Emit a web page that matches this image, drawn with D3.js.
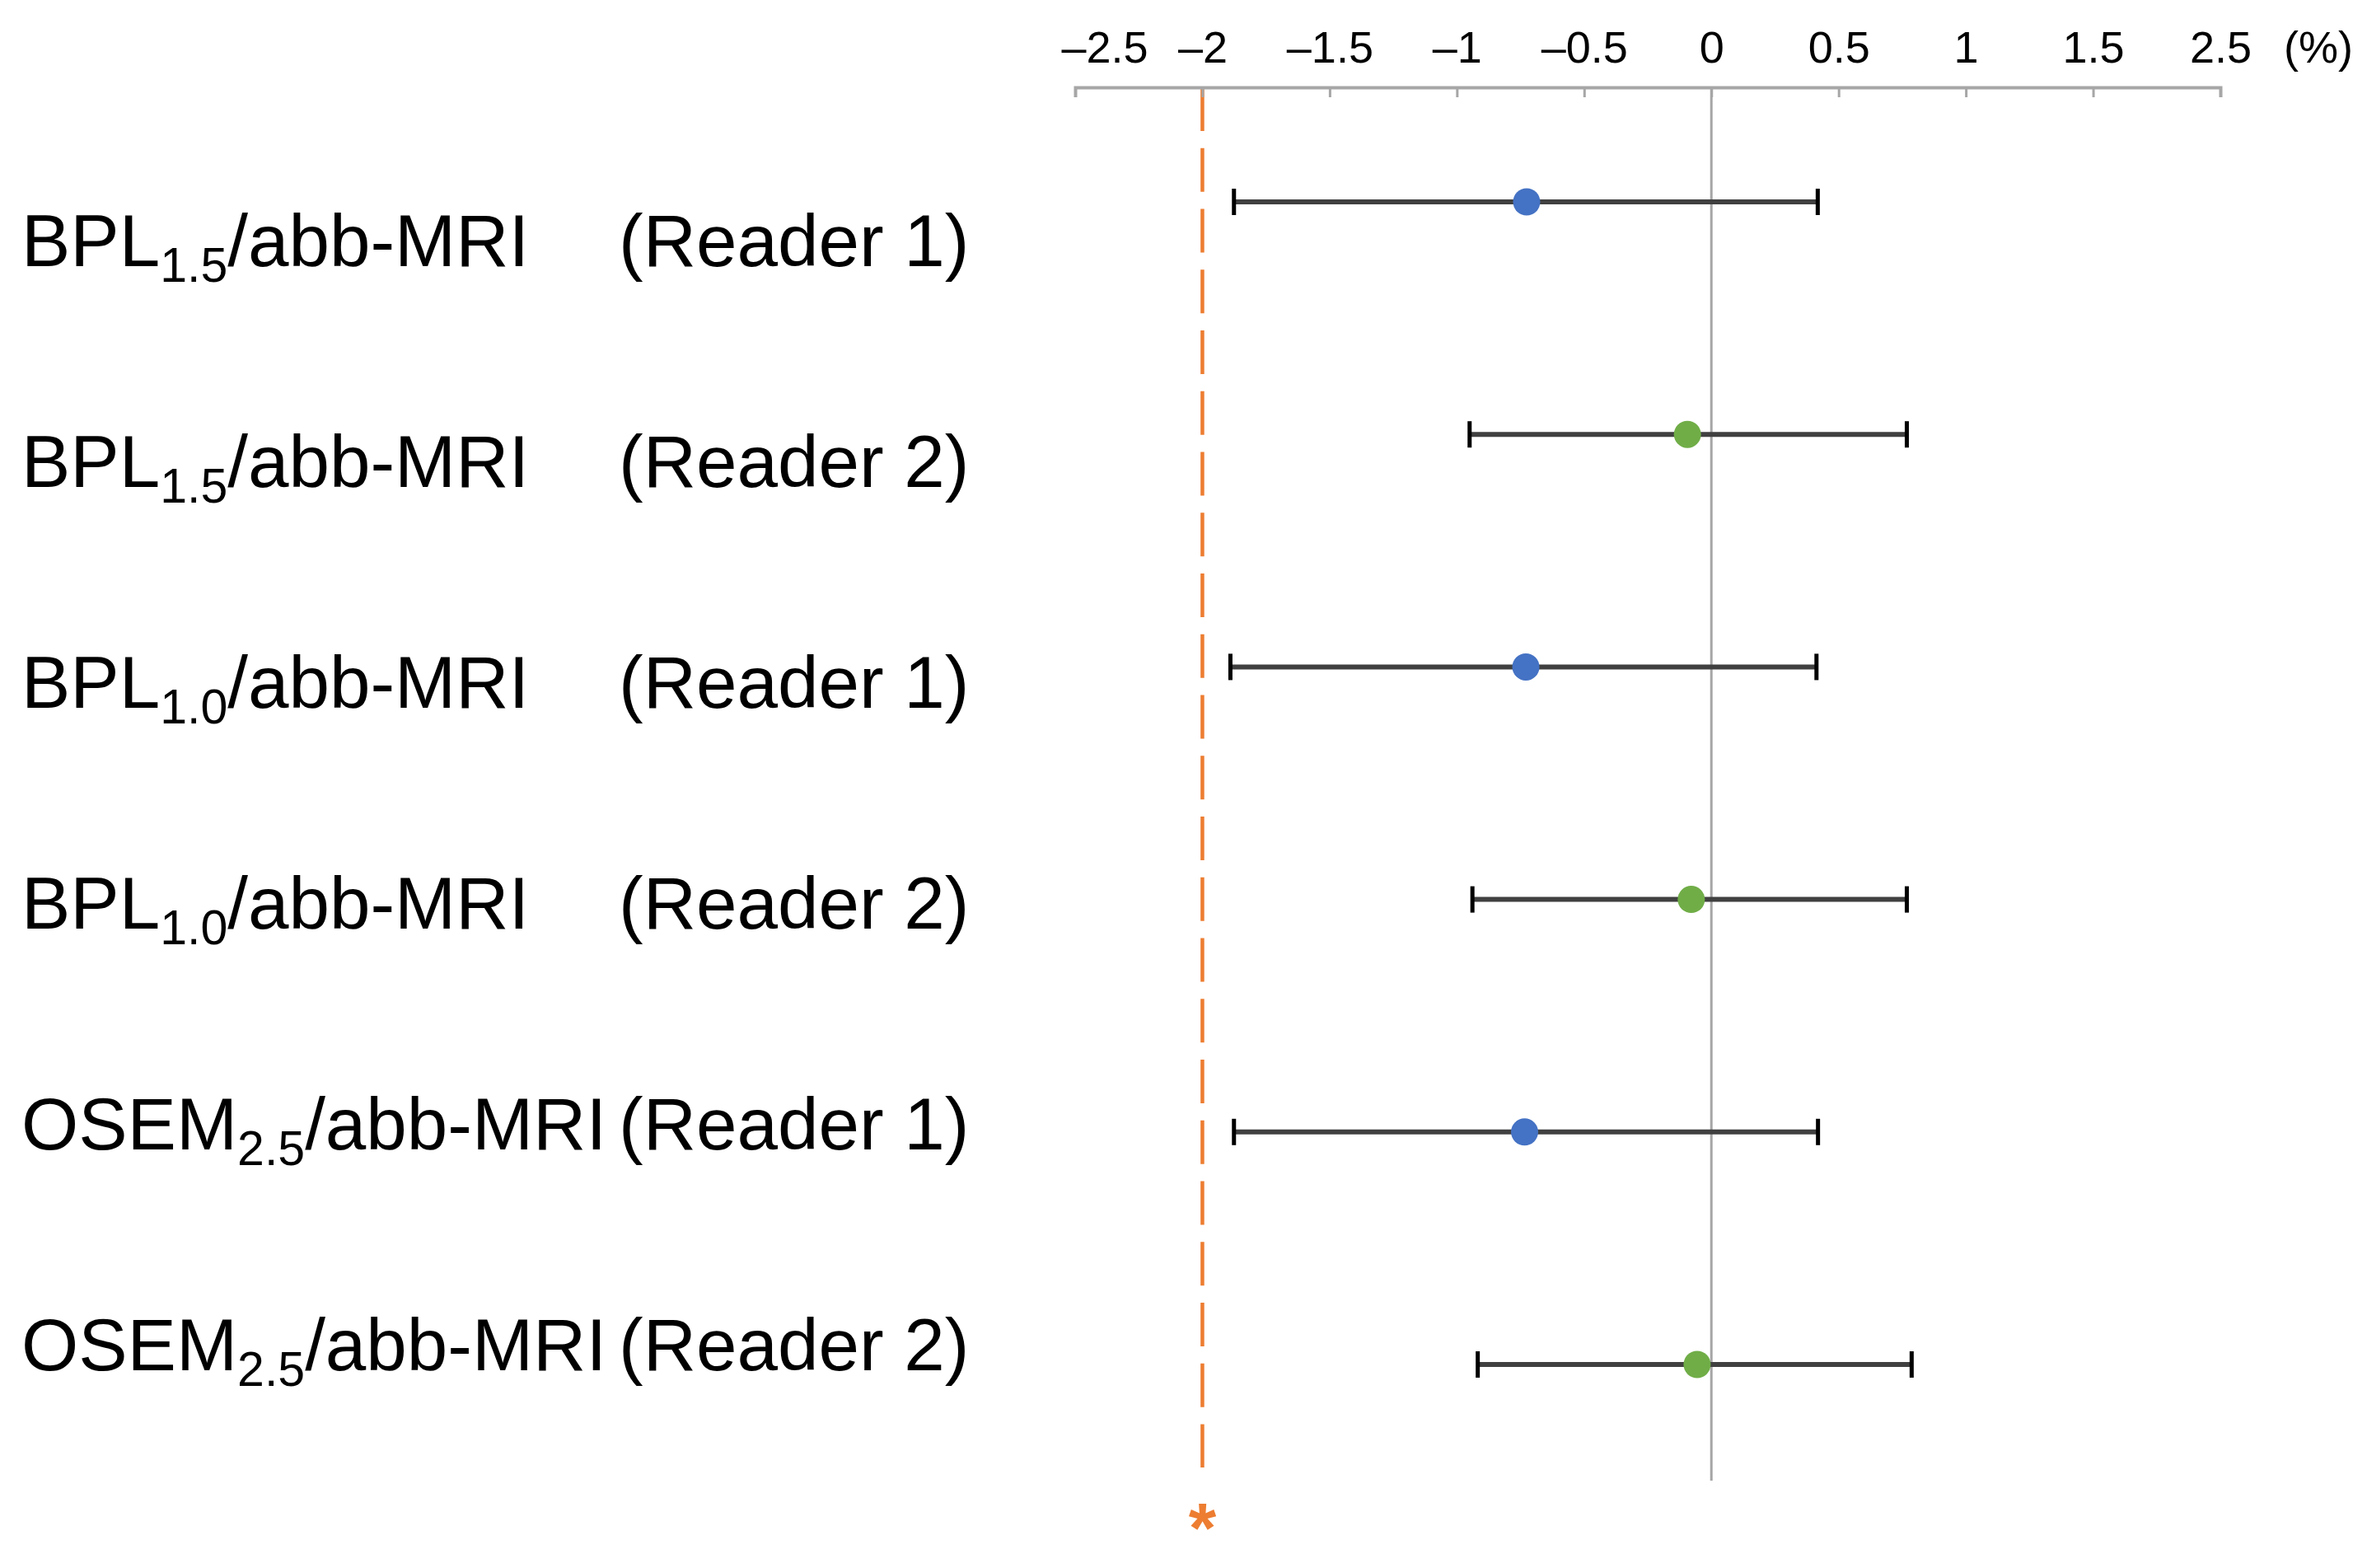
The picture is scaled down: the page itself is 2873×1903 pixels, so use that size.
<!DOCTYPE html>
<html>
<head>
<meta charset="utf-8">
<script src="https://cdn.jsdelivr.net/npm/d3@7"></script>
<style>
  html, body { margin: 0; padding: 0; background: #ffffff; }
  svg { display: block; }
  text { font-family: "Liberation Sans", Arial, sans-serif; }
</style>
</head>
<body>
<script>
// ---- data ----
const methodNames = ["BPL", "BPL", "BPL", "BPL", "OSEM", "OSEM"];
const methodSubs  = ["1.5", "1.5", "1.0", "1.0", "2.5", "2.5"];
const comparison  = "/abb-MRI";
const readerNames = ["(Reader 1)", "(Reader 2)", "(Reader 1)", "(Reader 2)", "(Reader 1)", "(Reader 2)"];
const readerIds   = [1, 2, 1, 2, 1, 2];
const meanDiff = [-0.726, -0.094, -0.729, -0.079, -0.734, -0.056];
const ciLower  = [-1.876, -0.950, -1.890, -0.939, -1.876, -0.918];
const ciUpper  = [0.418, 0.768, 0.413, 0.768, 0.419, 0.787];
const tickValues = [-2.5, -2, -1.5, -1, -0.5, 0, 0.5, 1, 1.5, 2];
const tickLabels = ["\u20132.5", "\u20132", "\u20131.5", "\u20131", "\u20130.5", "0", "0.5", "1", "1.5", "2.5"];
const axisUnit = "(%)";
const margin = -2;          // non-inferiority margin
const marginMark = "*";

const W = 2873, H = 1903;
const rows = d3.range(methodNames.length);

const svg = d3.select("body").append("svg")
  .attr("width", W).attr("height", H)
  .attr("viewBox", `0 0 ${W} ${H}`);
svg.append("rect").attr("width", W).attr("height", H).attr("fill", "#ffffff");

const x = d3.scaleLinear().domain([-2.5, 2]).range([1305, 2695]);
const y = d3.scalePoint().domain(rows).range([245, 1656]);
const yLabel = d3.scalePoint().domain(rows).range([323, 1663]);
const axisY = 106;
const colors = { 1: "#4472C4", 2: "#70AD47" };

// zero reference line
svg.append("line")
  .attr("x1", x(0)).attr("x2", x(0))
  .attr("y1", axisY).attr("y2", 1797)
  .attr("stroke", "#a6a6a6").attr("stroke-width", 3);

// margin dashed line
svg.append("line")
  .attr("x1", x(margin)).attr("x2", x(margin))
  .attr("y1", axisY).attr("y2", 1781)
  .attr("stroke", "#ED7D31").attr("stroke-width", 4.5)
  .attr("stroke-dasharray", "53,20.75");
svg.append("text")
  .attr("x", x(margin)).attr("y", 1884)
  .attr("text-anchor", "middle")
  .attr("font-size", 86).attr("font-weight", "bold")
  .attr("fill", "#ED7D31")
  .text(marginMark);

// axis
const axis = d3.axisTop(x)
  .tickValues(tickValues)
  .tickFormat((d, i) => tickLabels[i])
  .tickSizeInner(-12)
  .tickSizeOuter(-12)
  .tickPadding(30);
const gAxis = svg.append("g").attr("transform", `translate(0,${axisY})`).call(axis);
gAxis.select(".domain").attr("stroke", "#a6a6a6").attr("stroke-width", 4);
gAxis.selectAll(".tick line").attr("stroke", "#a6a6a6").attr("stroke-width", 3);
gAxis.selectAll(".tick text")
  .attr("font-family", "\"Liberation Sans\", Arial, sans-serif")
  .attr("font-size", 54).attr("fill", "#000");
gAxis.selectAll(".tick text").filter((d, i) => i === 0)
  .attr("text-anchor", "start").attr("x", -17);
svg.append("text")
  .attr("x", 2772).attr("y", axisY - 30)
  .attr("font-size", 54).attr("fill", "#000")
  .text(axisUnit);

// error bars
const g = svg.append("g");
g.selectAll("line.ci").data(rows).join("line")
  .attr("class", "ci")
  .attr("x1", i => x(ciLower[i])).attr("x2", i => x(ciUpper[i]))
  .attr("y1", i => y(i)).attr("y2", i => y(i))
  .attr("stroke", "#404040").attr("stroke-width", 6);
[ciLower, ciUpper].forEach((arr, k) => {
  g.selectAll("line.cap" + k).data(rows).join("line")
    .attr("class", "cap" + k)
    .attr("x1", i => x(arr[i])).attr("x2", i => x(arr[i]))
    .attr("y1", i => y(i) - 16).attr("y2", i => y(i) + 16)
    .attr("stroke", "#000").attr("stroke-width", 5);
});
g.selectAll("circle").data(rows).join("circle")
  .attr("cx", i => x(meanDiff[i])).attr("cy", i => y(i))
  .attr("r", 16.5)
  .attr("fill", i => colors[readerIds[i]]);

// row labels
const labels = svg.append("g");
rows.forEach(i => {
  const t = labels.append("text")
    .attr("x", 26).attr("y", yLabel(i))
    .attr("font-size", 89).attr("fill", "#000");
  t.append("tspan").text(methodNames[i]);
  t.append("tspan").attr("font-size", 59).attr("dy", 19).text(methodSubs[i]);
  t.append("tspan").attr("dy", -19).text(comparison);
  labels.append("text")
    .attr("x", 751).attr("y", yLabel(i))
    .attr("font-size", 89).attr("fill", "#000")
    .text(readerNames[i]);
});
</script>
</body>
</html>
